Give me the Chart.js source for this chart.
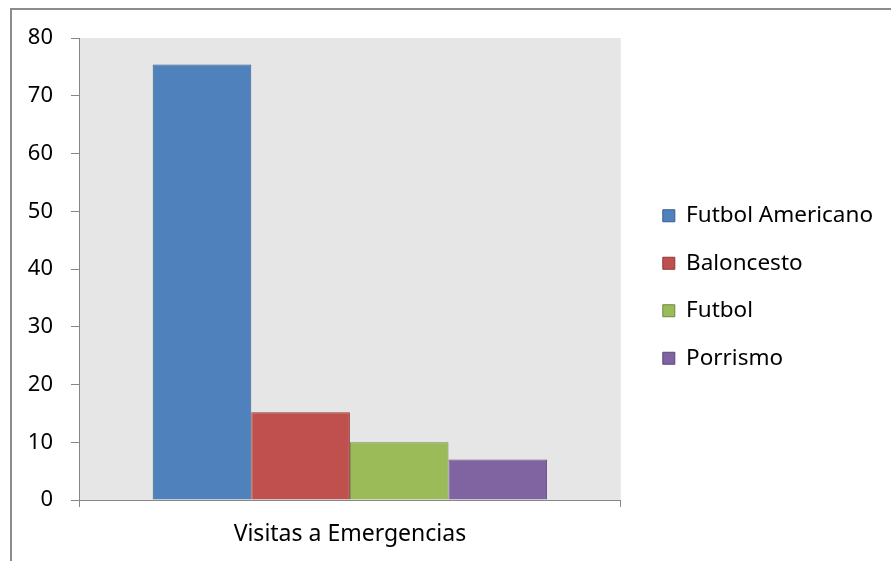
<!DOCTYPE html>
<html>
<head>
<meta charset="utf-8">
<script src="https://cdn.jsdelivr.net/npm/chart.js@4"></script>
<style>
    html, body { margin: 0; padding: 0; background: #fff; }
    #wrap { position: relative; width: 891px; height: 561px; }
    #marco { position: absolute; left: 10px; top: 8px; right: 0; bottom: 0;
             border-top: 2px solid #8c8c8c; border-left: 2px solid #8c8c8c; }
    #grafico { position: absolute; left: 0; top: 0; }
</style>
</head>
<body>
<div id="wrap">
    <div id="marco"></div>
    <canvas id="grafico" width="891" height="561"></canvas>
</div>
<script>
// datos
var categorias = ['Visitas a Emergencias'];
var deportes = ['Futbol Americano', 'Baloncesto', 'Futbol', 'Porrismo'];
var visitas = [75.4, 15.2, 10, 7];
var yTicks = [0, 10, 20, 30, 40, 50, 60, 70, 80];

var rellenos = ['#4f81bd', '#c0504d', '#9bbb59', '#8064a2'];
var bordes = ['#385d8a', '#8c3836', '#71893f', '#5c4776'];
var gris = '#868686';
var fuente = { family: 'Noto Sans', size: 23 };
var fuenteLeyenda = { family: 'Noto Sans', size: 22.5 };
var fuenteY = { family: 'Noto Sans', size: 22 };

// fondo gris del area de trazado
var fondoArea = {
    id: 'fondoArea',
    beforeDraw: function (chart) {
        var a = chart.chartArea;
        var ctx = chart.ctx;
        ctx.save();
        ctx.fillStyle = '#e6e6e6';
        ctx.fillRect(a.left, a.top, a.right - a.left, a.bottom - a.top);
        ctx.restore();
    }
};

var ctx = document.getElementById('grafico').getContext('2d');
var miGrafico = new Chart(ctx, {
    type: 'bar',
    data: {
        labels: categorias,
        datasets: deportes.map(function (d, i) {
            return {
                label: d,
                data: [visitas[i]],
                backgroundColor: rellenos[i],
                borderColor: bordes[i],
                borderWidth: 1,
                barPercentage: 1,
                categoryPercentage: 0.728
            };
        })
    },
    options: {
        responsive: false,
        animation: false,
        layout: { padding: { top: 13, left: 0, right: 8, bottom: 0 } },
        plugins: {
            legend: {
                position: 'right',
                maxWidth: 400,
                labels: {
                    boxWidth: 12,
                    boxHeight: 12,
                    padding: 25,
                    color: '#000',
                    font: fuenteLeyenda
                }
            },
            tooltip: { enabled: false }
        },
        scales: {
            x: {
                offset: true,
                grid: { display: true, offset: true, drawOnChartArea: false, drawTicks: true, tickLength: 7, color: gris },
                border: { display: true, color: gris },
                ticks: { color: '#000', font: fuente, padding: 14 },
                afterFit: function (s) { s.height = 61; }
            },
            y: {
                min: 0,
                max: 80,
                afterBuildTicks: function (s) { s.ticks = yTicks.map(function (v) { return { value: v }; }); },
                grid: { display: true, drawOnChartArea: false, drawTicks: true, tickLength: 8, color: gris },
                border: { display: true, color: gris },
                ticks: { color: '#000', font: fuenteY, padding: 18 },
                afterFit: function (s) { s.width = 79; }
            },
            // huecos: arriba del area y entre el area y la leyenda
            xEspacio: {
                position: 'top',
                display: true,
                grid: { display: false },
                border: { display: false },
                ticks: { display: false },
                afterFit: function (s) { s.height = 25; }
            },
            yEspacio: {
                position: 'right',
                display: true,
                grid: { display: false },
                border: { display: false },
                ticks: { display: false },
                afterFit: function (s) { s.width = 17; }
            }
        }
    },
    plugins: [fondoArea]
});
</script>
</body>
</html>
